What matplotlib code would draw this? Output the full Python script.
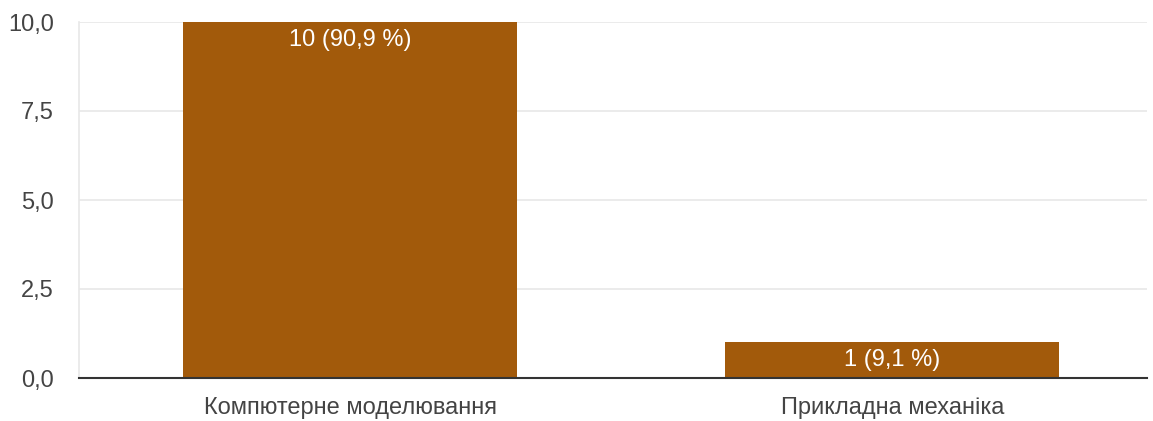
import matplotlib.pyplot as plt
from matplotlib.ticker import FuncFormatter

categories = ["Компютерне моделювання", "Прикладна механіка"]
counts = [10, 1]
labels = ["10 (90,9 %)", "1 (9,1 %)"]
yticks = [0, 2.5, 5, 7.5, 10]

plt.rcParams['font.family'] = ['Liberation Sans', 'DejaVu Sans']

fig = plt.figure(figsize=(11.53, 4.21), dpi=100)
ax = fig.add_axes([79 / 1153, 1 - 378 / 421, 1068 / 1153, 356 / 421])

bars = ax.bar(range(len(counts)), counts, width=0.616, color="#A25A0B", zorder=2)
for b, t in zip(bars, labels):
    ax.annotate(t, (b.get_x() + b.get_width() / 2, b.get_height()),
                xytext=(0, -13), textcoords="offset points",
                ha="center", va="center", color="white", fontsize=17, zorder=3)

ax.set_xlim(-0.5, 1.47)
ax.set_ylim(0, 10)
ax.set_yticks(yticks)
ax.yaxis.set_major_formatter(FuncFormatter(lambda v, p: f"{v:.1f}".replace(".", ",")))
ax.set_xticks(range(len(categories)))
ax.set_xticklabels(categories)
ax.grid(axis="y", color="#e8e8e8", linewidth=1.2, zorder=0)
ax.tick_params(axis="both", length=0, labelsize=17, colors="#444444")
ax.tick_params(axis="x", pad=14)
ax.tick_params(axis="y", pad=18)
for s in ["top", "right"]:
    ax.spines[s].set_visible(False)
ax.spines["left"].set_color("#e8e8e8")
ax.spines["left"].set_linewidth(1.2)
ax.spines["bottom"].set_color("#333333")
ax.spines["bottom"].set_linewidth(1.5)
ax.spines["bottom"].set_zorder(4)

fig.savefig("out.png", dpi=100)
